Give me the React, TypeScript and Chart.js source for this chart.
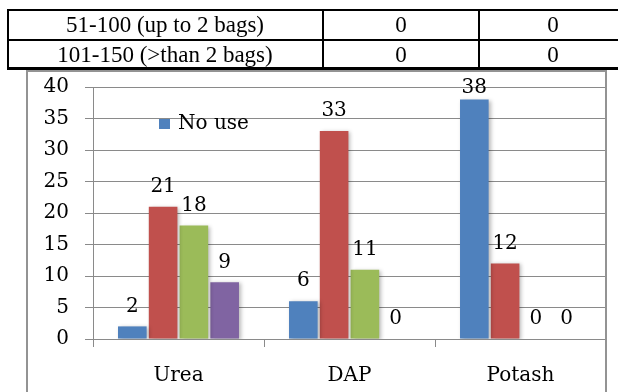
import React, { useEffect, useRef } from "react";
import { Chart, registerables } from "chart.js";

Chart.register(...registerables);

// Fertilizer types on the x axis
const categories = ["Urea", "DAP", "Potash"];

// Respondents per usage class
const seriesNames = ["No use", "Up to 1 bag", "Up to 2 bags", "More than 2 bags"];
const noUse = [2, 6, 38];
const upTo1Bag = [21, 33, 12];
const upTo2Bags = [18, 11, 0];
const moreThan2Bags = [9, 0, 0];
const seriesColors = ["#4F81BD", "#C0504D", "#9BBB59", "#8064A2"];

// Y axis range
const yMin = 0;
const yMax = 40;
const yStep = 5;

// Rows of the table above the chart
const tableLabels = ["51-100 (up to 2 bags)", "101-150 (>than 2 bags)"];
const tableCol2 = ["0", "0"];
const tableCol3 = ["0", "0"];

const FONT = '"DejaVu Serif", serif';
const GRID = "#8a8a8a";

const barShadow = {
  id: "barShadow",
  beforeDatasetsDraw(chart: any) {
    const ctx = chart.ctx;
    ctx.save();
    ctx.shadowColor = "rgba(0,0,0,0.28)";
    ctx.shadowBlur = 4;
    ctx.shadowOffsetX = 2;
    ctx.shadowOffsetY = 1;
  },
  afterDatasetsDraw(chart: any) {
    chart.ctx.restore();
  },
};

const valueLabels = {
  id: "valueLabels",
  afterDatasetsDraw(chart: any) {
    const ctx = chart.ctx;
    ctx.save();
    ctx.font = `20px ${FONT}`;
    ctx.fillStyle = "#000";
    ctx.textAlign = "center";
    ctx.textBaseline = "middle";
    chart.data.datasets.forEach((ds: any, i: number) => {
      const meta = chart.getDatasetMeta(i);
      meta.data.forEach((bar: any, j: number) => {
        const y = Math.max(bar.y - 20, chart.chartArea.top + 1);
        ctx.fillText(String(ds.data[j]), bar.x, y);
      });
    });
    ctx.restore();
  },
};

const partialLegend = {
  id: "partialLegend",
  afterDraw(chart: any) {
    const ctx = chart.ctx;
    ctx.save();
    ctx.fillStyle = seriesColors[0];
    ctx.fillRect(159, 119, 11, 10);
    ctx.font = `20px ${FONT}`;
    ctx.fillStyle = "#000";
    ctx.textAlign = "left";
    ctx.textBaseline = "middle";
    ctx.fillText(seriesNames[0], 178, 124);
    ctx.restore();
  },
};

function UsageChart() {
  const ref = useRef<HTMLCanvasElement | null>(null);

  useEffect(() => {
    if (!ref.current) return;
    const seriesValues = [noUse, upTo1Bag, upTo2Bags, moreThan2Bags];
    const chart = new Chart(ref.current, {
      type: "bar",
      data: {
        labels: categories,
        datasets: seriesValues.map((values, i) => ({
          label: seriesNames[i],
          data: values,
          backgroundColor: seriesColors[i],
          borderWidth: 0,
          categoryPercentage: 0.72,
          barPercentage: 0.93,
        })),
      },
      options: {
        responsive: false,
        animation: false,
        devicePixelRatio: 1,
        layout: { padding: { top: 87, right: 12, left: 0, bottom: 0 } },
        plugins: {
          legend: { display: false },
          tooltip: { enabled: false },
        },
        scales: {
          x: {
            offset: true,
            grid: {
              offset: true,
              drawOnChartArea: false,
              tickLength: 8,
              color: GRID,
            },
            border: { color: GRID },
            ticks: {
              color: "#000",
              font: { family: FONT, size: 20 },
              padding: 17,
            },
            afterFit(scale: any) {
              scale.height = 53;
            },
          },
          y: {
            min: yMin,
            max: yMax,
            ticks: {
              stepSize: yStep,
              color: "#000",
              font: { family: FONT, size: 20 },
              padding: 16,
            },
            grid: { color: GRID, tickLength: 8 },
            border: { color: GRID },
            afterFit(scale: any) {
              scale.width = 93;
            },
          },
        },
      },
      plugins: [barShadow, valueLabels, partialLegend],
    });
    return () => chart.destroy();
  }, []);

  return (
    <canvas
      ref={ref}
      width={618}
      height={392}
      style={{ position: "absolute", left: 0, top: 0, width: 618, height: 392 }}
    />
  );
}

const line = (left: number, top: number, width: number, height: number) => (
  <div
    style={{ position: "absolute", left, top, width, height, background: "#000" }}
  />
);

const cellText = (text: string, center: number, top: number, key: string) => (
  <div
    key={key}
    style={{
      position: "absolute",
      left: center - 150,
      width: 300,
      top,
      textAlign: "center",
      font: '23px "Liberation Serif", "Times New Roman", serif',
      lineHeight: "23px",
      color: "#000",
      whiteSpace: "nowrap",
    }}
  >
    {text}
  </div>
);

export default function App() {
  const rowTops = [13, 43];
  return (
    <div
      style={{
        position: "absolute",
        left: 0,
        top: 0,
        width: 618,
        height: 392,
        overflow: "hidden",
        background: "#fff",
      }}
    >
      <UsageChart />
      <div
        style={{
          position: "absolute",
          left: 26,
          top: 70,
          width: 581,
          height: 400,
          border: "2px solid #939393",
          boxSizing: "border-box",
          pointerEvents: "none",
        }}
      />
      {line(7, 9, 620, 2)}
      {line(7, 39, 620, 2)}
      {line(7, 67, 620, 3)}
      {line(7, 9, 2, 61)}
      {line(322, 9, 2, 61)}
      {line(478, 9, 2, 61)}
      {tableLabels.map((t, i) => cellText(t, 165, rowTops[i], "a" + i))}
      {tableCol2.map((t, i) => cellText(t, 401, rowTops[i], "b" + i))}
      {tableCol3.map((t, i) => cellText(t, 553, rowTops[i], "c" + i))}
    </div>
  );
}
